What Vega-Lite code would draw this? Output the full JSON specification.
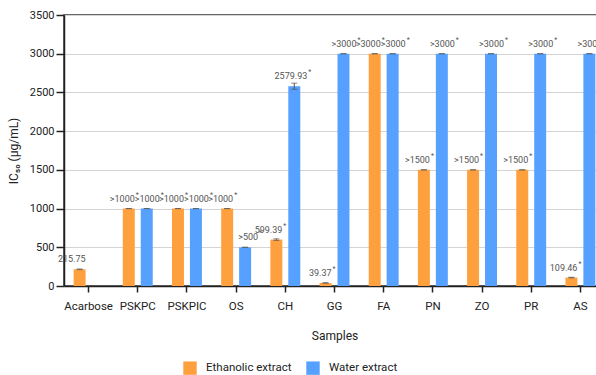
{
  "$schema": "https://vega.github.io/schema/vega-lite/v6.json",
  "autosize": "none",
  "padding": {"left": 64, "top": 15, "right": 0, "bottom": 89},
  "width": 541,
  "height": 271,
  "config": {
    "font": "Roboto",
    "view": {"stroke": "#333", "strokeWidth": 1.5},
    "axis": {"labelFont": "Roboto", "titleFont": "Roboto", "titleFontWeight": "normal", "labelColor": "#222", "titleColor": "#222"},
    "legend": {"labelFont": "Roboto"}
  },
  "data": {
    "values": [
      {"sample": "Acarbose", "extract": "Ethanolic extract", "value": 215.75, "sd": 4, "label": "215.75", "star": ""},
      {"sample": "PSKPC", "extract": "Ethanolic extract", "value": 1000, "sd": 0, "label": ">1000", "star": "*"},
      {"sample": "PSKPC", "extract": "Water extract", "value": 1000, "sd": 0, "label": ">1000", "star": "*"},
      {"sample": "PSKPIC", "extract": "Ethanolic extract", "value": 1000, "sd": 0, "label": ">1000", "star": "*"},
      {"sample": "PSKPIC", "extract": "Water extract", "value": 1000, "sd": 0, "label": ">1000", "star": "*"},
      {"sample": "OS", "extract": "Ethanolic extract", "value": 1000, "sd": 0, "label": ">1000", "star": "*"},
      {"sample": "OS", "extract": "Water extract", "value": 500, "sd": 0, "label": ">500", "star": "*"},
      {"sample": "CH", "extract": "Ethanolic extract", "value": 599.39, "sd": 10, "label": "599.39", "star": "*"},
      {"sample": "CH", "extract": "Water extract", "value": 2579.93, "sd": 40, "label": "2579.93", "star": "*"},
      {"sample": "GG", "extract": "Ethanolic extract", "value": 39.37, "sd": 3, "label": "39.37", "star": "*"},
      {"sample": "GG", "extract": "Water extract", "value": 3000, "sd": 0, "label": ">3000", "star": "*"},
      {"sample": "FA", "extract": "Ethanolic extract", "value": 3000, "sd": 0, "label": ">3000", "star": "*"},
      {"sample": "FA", "extract": "Water extract", "value": 3000, "sd": 0, "label": ">3000", "star": "*"},
      {"sample": "PN", "extract": "Ethanolic extract", "value": 1500, "sd": 0, "label": ">1500", "star": "*"},
      {"sample": "PN", "extract": "Water extract", "value": 3000, "sd": 0, "label": ">3000", "star": "*"},
      {"sample": "ZO", "extract": "Ethanolic extract", "value": 1500, "sd": 0, "label": ">1500", "star": "*"},
      {"sample": "ZO", "extract": "Water extract", "value": 3000, "sd": 0, "label": ">3000", "star": "*"},
      {"sample": "PR", "extract": "Ethanolic extract", "value": 1500, "sd": 0, "label": ">1500", "star": "*"},
      {"sample": "PR", "extract": "Water extract", "value": 3000, "sd": 0, "label": ">3000", "star": "*"},
      {"sample": "AS", "extract": "Ethanolic extract", "value": 109.46, "sd": 4, "label": "109.46", "star": "*"},
      {"sample": "AS", "extract": "Water extract", "value": 3000, "sd": 0, "label": ">3000", "star": "*"}
    ]
  },
  "encoding": {
    "x": {
      "field": "sample", "type": "nominal", "sort": null,
      "scale": {"paddingInner": 0.27, "paddingOuter": 0.135},
      "axis": {"title": "Samples", "labelAngle": 0, "labelFontSize": 11.5, "titleFontSize": 12, "titlePadding": 19, "labelPadding": 8, "domainColor": "#222", "tickColor": "#222", "tickSize": 6, "tickWidth": 1.5, "domainWidth": 1.5}
    },
    "xOffset": {
      "field": "extract", "type": "nominal", "sort": ["Ethanolic extract", "Water extract"],
      "scale": {"paddingInner": 0.333, "paddingOuter": 0.1667}
    },
    "y": {
      "field": "value", "type": "quantitative",
      "scale": {"domain": [0, 3500], "nice": false},
      "axis": {"title": "IC₅₀  (μg/mL)", "format": "d", "values": [0, 500, 1000, 1500, 2000, 2500, 3000, 3500], "labelFontSize": 11, "labelPadding": 2, "titleFontSize": 12, "titlePadding": 9, "gridColor": "#d4d4d4", "domainColor": "#222", "tickColor": "#222", "tickSize": 8, "domainWidth": 1.5, "tickWidth": 1.5}
    }
  },
  "layer": [
    {
      "mark": {"type": "bar"},
      "encoding": {
        "color": {
          "field": "extract", "type": "nominal",
          "scale": {"domain": ["Ethanolic extract", "Water extract"], "range": ["#FFA03E", "#56A0FF"]},
          "legend": {"title": null, "orient": "none", "direction": "horizontal", "legendX": 119, "legendY": 346, "symbolType": "square", "symbolSize": 180, "symbolStrokeWidth": 0, "labelFontSize": 11.5, "labelColor": "#222", "columnPadding": 14, "labelOffset": 9}
        }
      }
    },
    {
      "mark": {"type": "errorbar", "ticks": {"size": 6, "color": "#555"}, "color": "#555"},
      "encoding": {
        "y": {"field": "value", "type": "quantitative"},
        "yError": {"field": "sd"}
      }
    },
    {
      "transform": [{"filter": "datum.extract === 'Ethanolic extract'"}],
      "layer": [
        {
          "mark": {"type": "text", "align": "right", "baseline": "bottom", "dx": 6, "dy": -5, "fontSize": 9, "color": "#555"},
          "encoding": {"text": {"field": "label"}}
        },
        {
          "mark": {"type": "text", "align": "left", "baseline": "bottom", "dx": 7, "dy": -11, "fontSize": 7, "color": "#555"},
          "encoding": {"text": {"field": "star"}}
        }
      ]
    },
    {
      "transform": [{"filter": "datum.extract === 'Water extract'"}],
      "layer": [
        {
          "mark": {"type": "text", "align": "right", "baseline": "bottom", "dx": 13, "dy": -5, "fontSize": 9, "color": "#555"},
          "encoding": {"text": {"field": "label"}}
        },
        {
          "mark": {"type": "text", "align": "left", "baseline": "bottom", "dx": 14, "dy": -11, "fontSize": 7, "color": "#555"},
          "encoding": {"text": {"field": "star"}}
        }
      ]
    }
  ]
}
